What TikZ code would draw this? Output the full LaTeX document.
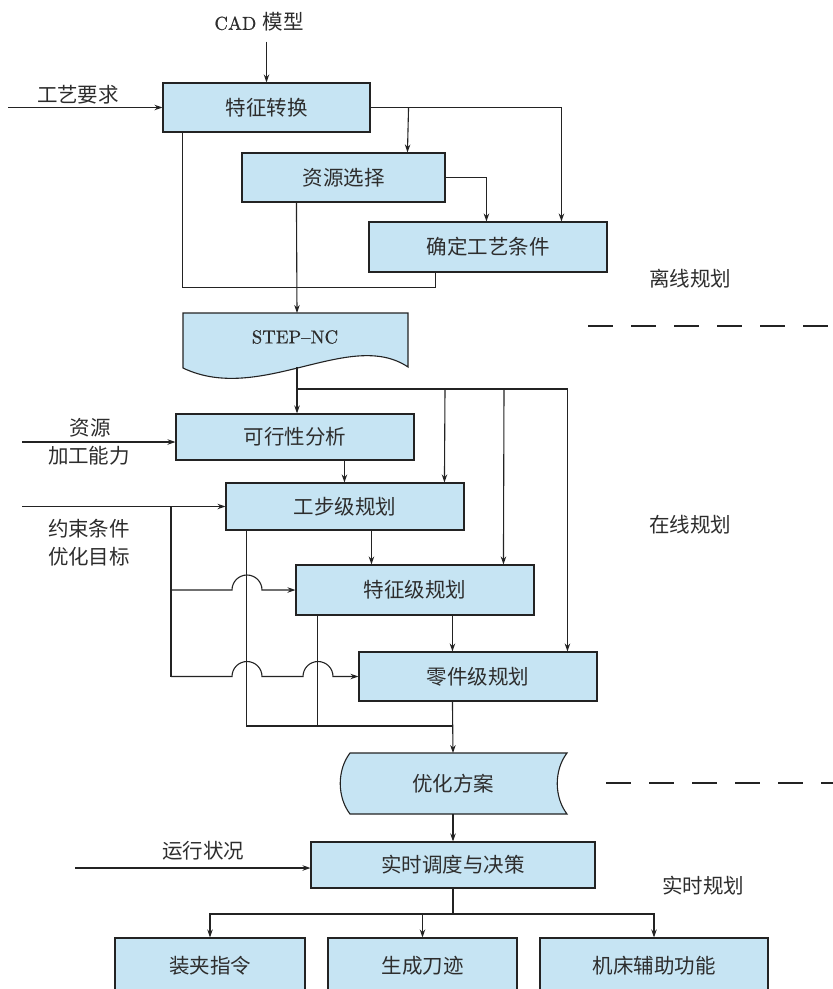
\documentclass[tikz,border=0pt]{standalone}
\usepackage{fontspec}
\newfontfamily\cjk{Noto Sans CJK SC}
\newfontfamily\lat{lmroman10-regular}[Extension=.otf, FakeBold=0.6]
\usetikzlibrary{calc,arrows.meta}
\definecolor{boxfill}{RGB}{198,228,243}
\definecolor{linec}{RGB}{35,35,35}
\definecolor{textc}{RGB}{45,45,45}
\begin{document}
\begin{tikzpicture}[x=1pt,y=-1pt,
  ln/.style={line width=1.1pt, draw=linec},
  arr/.style={ln, -{Stealth[length=8pt,width=5.5pt]}},
  box/.style={draw=linec, line width=1.1pt, fill=boxfill, inner sep=0pt,
    font=\cjk\fontsize{20.5pt}{24pt}\selectfont, text=textc},
  lbl/.style={inner sep=0pt, font=\cjk\fontsize{20.5pt}{24pt}\selectfont, text=textc},
  latin/.style={inner sep=0pt, font=\lat\fontsize{18.7pt}{22pt}\selectfont, text=textc},
  sep/.style={line width=1.1pt, draw=linec, dash pattern=on 25pt off 18pt}
]
\useasboundingbox (0,0) rectangle (833,989);
\clip (0,0) rectangle (833,989);

% ---------- offline planning ----------
\node[latin] (cad) at (259,22) {CAD {\cjk\fontsize{20.5pt}{24pt}\selectfont 模型}};
\node[box, minimum width=207, minimum height=49] (tz) at (266.5,107.5) {特征转换};
\node[box, minimum width=203, minimum height=49] (zy) at (343.5,177.5) {资源选择};
\node[box, minimum width=238, minimum height=50] (qd) at (488,247) {确定工艺条件};
\node[lbl] (gy) at (78,95) {工艺要求};
\coordinate (in1) at (8,107.5);

\draw[arr, shorten <=10pt] (cad.south -| tz.north) -- (tz.north);
\draw[arr] (in1) -- (tz.west);
\draw[arr] (tz.east) -| ($(qd.north west)+(193,0)$);
\draw[arr] ($(tz.east)+(38,0)$) -- ($(zy.north west)+(166,0)$);
\draw[arr] (zy.east) -| ($(qd.north west)+(118,0)$);
\draw[ln] ($(tz.south west)+(20,0)$) -- ++(0,155) -| ($(qd.south west)+(67,0)$);

% STEP-NC document shape
\draw[ln, fill=boxfill] (183,313) -- (408,313) -- (408,367)
  .. controls (350,328) and (260,405) .. (183,368) -- cycle;
\node[latin] (step) at (295,337) {STEP–NC};
\coordinate (stept) at (297,313);
\coordinate (stepb) at (297,367);
\draw[arr] ($(zy.south west)+(55,0)$) -- (stept);

% ---------- online planning ----------
\node[box, minimum width=238, minimum height=46] (kx) at (295,437) {可行性分析};
\node[box, minimum width=238, minimum height=47] (gb) at (345,506.5) {工步级规划};
\node[box, minimum width=238, minimum height=50] (tzj) at (415,590) {特征级规划};
\node[box, minimum width=238, minimum height=49] (lj) at (478,676.5) {零件级规划};

\node[lbl] (zyl) at (90,428) {资源};
\node[lbl] (jg) at (89,456) {加工能力};
\node[lbl] (ys) at (89,529) {约束条件};
\node[lbl] (yh) at (89,557) {优化目标};
\coordinate (in2) at (22,442);
\coordinate (in3) at (22,506.5);
\coordinate (br) at (171,506.5);

\coordinate (hb) at (297,389);
\draw[arr] (stepb) -- (stepb |- kx.north);
\draw[arr] (hb) -| ($(lj.north west)+(209,0)$);
\draw[arr] ($(hb)+(148,0)$) -- ($(gb.north west)+(219,0)$);
\draw[arr] ($(hb)+(207,0)$) -- ($(tzj.north west)+(208,0)$);

\draw[arr] (in2) -- (in2 -| kx.west);
\draw[arr] ($(kx.south west)+(169,0)$) -- ($(gb.north west)+(119,0)$);
\draw[arr] (in3) -- (gb.west);
\draw[ln] (br) -- (br |- lj.west);
\draw[arr] (br |- tzj.west) -- ++(61,0) arc[start angle=180, end angle=360, radius=15] -- (tzj.west);
\draw[arr] (br |- lj.west) -- ++(61,0) arc[start angle=180, end angle=360, radius=15]
  -- ++(41,0) arc[start angle=180, end angle=360, radius=15] -- (lj.west);
\draw[arr] ($(gb.south west)+(146,0)$) -- ($(tzj.north west)+(76,0)$);
\draw[arr] ($(tzj.south west)+(157,0)$) -- ($(lj.north west)+(94,0)$);

\coordinate (m726) at (453,726);
\coordinate (t318) at ($(tzj.south west)+(22,0)$);
\draw[ln] ($(gb.south west)+(21,0)$) |- (m726);
\draw[ln] (t318) -- (t318 |- m726);

% optimisation plan shape
\draw[ln, fill=boxfill] (350,753) -- (567,753)
  .. controls (554,770) and (554,797) .. (567,814) -- (350,814)
  .. controls (337,797) and (337,770) .. (350,753) -- cycle;
\node[lbl] (fa) at (453,784) {优化方案};
\coordinate (yht) at (453,753);
\coordinate (yhb) at (453,814);
\draw[arr] ($(lj.south west)+(94,0)$) -- (yht);

% ---------- real-time planning ----------
\node[box, minimum width=284, minimum height=46] (ss) at (453,865) {实时调度与决策};
\node[lbl] (yx) at (203,851) {运行状况};
\coordinate (in4) at (75,868);
\draw[arr] (yhb) -- (ss.north);
\draw[arr] (in4) -- (in4 -| ss.west);

\node[box, minimum width=190, minimum height=56] (b1) at (210,966) {装夹指令};
\node[box, minimum width=189, minimum height=56] (b2) at (422.5,966) {生成刀迹};
\node[box, minimum width=228, minimum height=56] (b3) at (654,966) {机床辅助功能};
\coordinate (bs) at (453,914);
\draw[ln] (ss.south) -- (bs);
\draw[arr] (bs) -| (b1.north);
\draw[arr] (bs) -| (b3.north);
\draw[arr] (bs -| b2.north) -- (b2.north);

% ---------- stage labels and separators ----------
\node[lbl] (lx) at (690,279) {离线规划};
\node[lbl] (zx) at (690,525) {在线规划};
\node[lbl] (ssl) at (703,886) {实时规划};
\coordinate (s1a) at (588,326);
\coordinate (s1b) at (833,326);
\coordinate (s2a) at (606,783);
\coordinate (s2b) at (833,783);
\draw[sep] (s1a) -- (s1b);
\draw[sep] (s2a) -- (s2b);
\end{tikzpicture}
\end{document}
